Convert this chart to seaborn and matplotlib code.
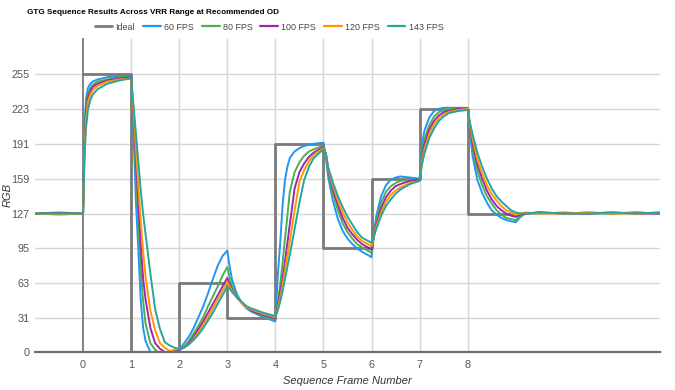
import matplotlib
matplotlib.use("Agg")
import matplotlib.pyplot as plt
from matplotlib.lines import Line2D
import seaborn as sns
import pandas as pd

# ---------------- data ----------------
series_names = ["Ideal", "60 FPS", "80 FPS", "100 FPS", "120 FPS", "143 FPS"]
series_colors = ["#7a7a7a", "#2196f3", "#4caf50", "#9c27b0", "#ff9800", "#26a69a"]

ideal_x = [0, 1, 1, 2, 2, 3, 3, 4, 4, 5, 5, 6, 6, 7, 7, 8, 8, 9]
ideal_y = [255, 255, 0, 0, 63, 63, 31, 31, 191, 191, 95, 95, 159, 159, 223, 223, 127, 127]

frame_x = [-1.0, -0.5, 0.0, 0.03, 0.06, 0.1, 0.15, 0.2, 0.3, 0.5, 0.75, 1.0,
           1.05, 1.1, 1.15, 1.2, 1.25, 1.3, 1.4, 1.5, 1.6, 1.7, 1.8, 1.9, 2.0,
           2.1, 2.2, 2.3, 2.4, 2.5, 2.6, 2.7, 2.8, 2.9, 3.0,
           3.05, 3.1, 3.2, 3.3, 3.4, 3.5, 3.75, 4.0,
           4.05, 4.1, 4.15, 4.2, 4.25, 4.3, 4.4, 4.5, 4.6, 4.7, 4.8, 5.0,
           5.05, 5.1, 5.2, 5.3, 5.4, 5.5, 5.6, 5.7, 5.8, 6.0,
           6.05, 6.1, 6.2, 6.3, 6.4, 6.5, 6.6, 6.8, 7.0,
           7.05, 7.1, 7.2, 7.3, 7.4, 7.5, 7.6, 7.8, 8.0,
           8.05, 8.1, 8.2, 8.3, 8.4, 8.5, 8.6, 8.7, 8.8, 8.9, 9.0, 9.1, 9.2,
           9.5, 10.0, 10.5, 11.0, 11.5, 12.0]

fps60 = [127, 128, 127, 205, 232, 242, 246, 248, 250, 252, 253, 253,
         200, 137, 93, 47, 22, 10, 0, -2, -3, -3, -2, 0, 2,
         8, 14, 22, 32, 42, 54, 67, 79, 88, 93,
         78, 66, 53, 45, 40, 37, 32, 28,
         70, 100, 135, 158, 170, 178, 184, 187, 189, 190, 191, 192,
         178, 160, 138, 122, 111, 104, 99, 95, 92, 87,
         110, 125, 143, 153, 158, 160, 161, 160, 159,
         190, 203, 215, 221, 223, 224, 224, 224, 224,
         200, 180, 158, 146, 137, 130, 126, 123, 121, 120, 119, 124, 127,
         128, 127, 128, 127, 128, 127]

fps80 = [127, 127, 127, 195, 225, 237, 242, 245, 248, 250, 252, 252,
         208, 164, 119, 75, 46, 26, 8, 2, -1, -2, -1, 0, 2,
         5, 10, 17, 24, 32, 42, 51, 60, 70, 78,
         68, 60, 51, 45, 41, 38, 33, 30,
         45, 62, 82, 104, 125, 147, 165, 174, 180, 184, 186, 189,
         181, 165, 145, 130, 118, 110, 104, 99, 96, 91,
         107, 120, 137, 147, 152, 155, 157, 158, 158,
         182, 195, 208, 216, 220, 222, 223, 223, 223,
         204, 187, 166, 153, 143, 136, 130, 126, 123, 122, 121, 125, 127,
         127, 128, 127, 127, 128, 127]

fps100 = [127, 127, 127, 190, 220, 233, 239, 243, 246, 249, 251, 252,
          215, 176, 137, 98, 67, 48, 22, 8, 3, 0, 0, 1, 2,
          4, 8, 14, 21, 28, 36, 44, 52, 60, 68,
          62, 57, 50, 45, 41, 38, 34, 31,
          42, 55, 68, 83, 100, 117, 150, 165, 173, 179, 183, 188,
          182, 167, 149, 135, 123, 114, 108, 103, 99, 94,
          106, 117, 132, 142, 148, 152, 154, 157, 158,
          178, 190, 204, 212, 217, 220, 221, 223, 223,
          206, 192, 172, 159, 148, 140, 134, 130, 127, 125, 124, 126, 127,
          128, 127, 127, 128, 127, 127]

fps120 = [127, 126, 127, 185, 214, 229, 236, 240, 244, 248, 250, 251,
          220, 186, 151, 120, 92, 69, 38, 20, 8, 4, 1, 2, 3,
          4, 7, 12, 18, 25, 32, 40, 48, 56, 64,
          60, 56, 50, 45, 41, 39, 35, 32,
          40, 50, 62, 75, 88, 102, 130, 156, 167, 175, 181, 187,
          182, 168, 152, 139, 128, 119, 112, 106, 102, 97,
          106, 115, 128, 138, 144, 148, 151, 155, 157,
          175, 186, 200, 209, 215, 218, 220, 222, 223,
          208, 196, 177, 164, 153, 145, 139, 134, 130, 128, 126, 127, 128,
          127, 127, 128, 127, 127, 128]

fps143 = [127, 127, 127, 180, 205, 222, 231, 236, 241, 246, 249, 251,
          226, 200, 174, 148, 126, 108, 72, 39, 21, 9, 6, 4, 3,
          4, 7, 11, 16, 22, 29, 36, 44, 52, 60,
          58, 55, 50, 46, 42, 40, 36, 33,
          38, 46, 56, 67, 78, 89, 113, 137, 158, 170, 178, 186,
          182, 169, 155, 143, 133, 124, 117, 110, 105, 100,
          106, 113, 125, 134, 140, 145, 149, 154, 157,
          172, 182, 196, 205, 212, 216, 219, 221, 222,
          210, 200, 183, 170, 159, 150, 143, 138, 134, 130, 128, 127, 127,
          128, 127, 127, 128, 127, 128]

x_ticks = [0, 1, 2, 3, 4, 5, 6, 7, 8]
y_ticks = [0, 31, 63, 95, 127, 159, 191, 223, 255]

# ---------------- build tables ----------------
wide = pd.DataFrame({"x": frame_x, "60 FPS": fps60, "80 FPS": fps80,
                     "100 FPS": fps100, "120 FPS": fps120, "143 FPS": fps143})
long = wide.melt(id_vars="x", var_name="series", value_name="RGB")
ideal_df = pd.DataFrame({"x": ideal_x, "RGB": ideal_y})

# ---------------- plot ----------------
sns.set_theme(style="white")
plt.rcParams["font.family"] = ["Liberation Sans", "DejaVu Sans"]

fig = plt.figure(figsize=(6.75, 3.9), dpi=100)
ax = fig.add_axes([35 / 675, 1 - 352 / 390, (660 - 35) / 675, (352 - 38) / 390])

ax.set_xlim(-1, 12)
ax.set_ylim(0, 288)

# grid lines
for yv in y_ticks[1:]:
    ax.axhline(yv, color="#d6d6d6", lw=1, zorder=0)
for xv in x_ticks[1:]:
    ax.axvline(xv, color="#d6d6d6", lw=1, zorder=0)
ax.axvline(0, color="#7a7a7a", lw=1.3, zorder=1)

sns.lineplot(data=ideal_df, x="x", y="RGB", ax=ax, color=series_colors[0],
             lw=2.0, sort=False, estimator=None, legend=False, zorder=2)
palette = dict(zip(series_names[1:], series_colors[1:]))
sns.lineplot(data=long, x="x", y="RGB", hue="series", palette=palette,
             hue_order=series_names[1:], ax=ax, lw=1.4, sort=False,
             estimator=None, legend=False, zorder=3)

for s in ["top", "right", "left"]:
    ax.spines[s].set_visible(False)
ax.spines["bottom"].set_color("#6e6e6e")
ax.spines["bottom"].set_linewidth(1.6)
ax.spines["bottom"].set_zorder(4)

ax.set_xticks(x_ticks)
ax.set_yticks(y_ticks)
ax.tick_params(axis="both", length=0, labelsize=7.8, labelcolor="#555555", pad=4)
ax.tick_params(axis="x", pad=6)
ax.set_xlabel("Sequence Frame Number", fontsize=8, style="italic", color="#333333")
ax.set_ylabel("RGB", fontsize=8, style="italic", color="#333333")
ax.xaxis.set_label_coords(0.5, -0.075)
ax.yaxis.set_label_coords(-0.036, 0.5)

fig.text(27 / 675, 1 - 12 / 390, "GTG Sequence Results Across VRR Range at Recommended OD",
         fontsize=5.9, fontweight="bold", color="#000000", va="center", ha="left")

handles = [Line2D([0], [0], color=c, lw=2.0 if i == 0 else 1.6)
           for i, c in enumerate(series_colors)]
fig.legend(handles, series_names, loc="center", bbox_to_anchor=(269 / 675, 1 - 27 / 390),
           ncol=6, frameon=False, fontsize=6.4, handlelength=2.0, handletextpad=0.35,
           columnspacing=0.9, labelcolor="#444444")

fig.savefig("out.png", dpi=100)
